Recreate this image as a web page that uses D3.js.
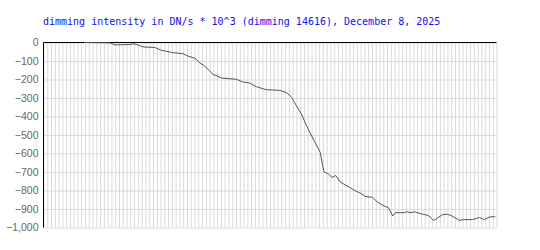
<!DOCTYPE html>
<html lang="en">
<head>
    <meta charset="UTF-8">
    <title>Dimming intensity</title>
    <script src="https://d3js.org/d3.v7.min.js"></script>
    <style>
        body { margin: 0; background: #fff; }
        .grid line { stroke: #d9d9d9; }
        .grid path { display: none; }
        .yaxis text { font-family: "Liberation Sans", Arial, sans-serif; font-size: 10.5px; fill: #666; }
        .yaxis line, .yaxis path { display: none; }
    </style>
</head>
<body>
    <div id="chart"></div>
    <script>

        // minutes since start of the window
        const minutes = [10.8, 17.6, 19, 22.9, 23.8, 24.7, 26.4, 29.5, 31.3, 32.6, 33.9, 37, 38.3, 40.1,
            41.4, 42.7, 44.1, 44.9, 47.2, 49.4, 51.1, 52.9, 54.6, 56.4, 59, 62.6, 64.3, 65.7, 67, 68.3,
            69.6, 70.9, 72.3, 73.3, 74, 74.3, 75.6, 76.4, 77.4, 78.6, 79.8, 81.1, 82.8, 84.2, 85.2, 87.2,
            88.4, 89.9, 91.4, 92.5, 93.2, 95.6, 96.2, 97.4, 98.3, 100, 102, 103.3, 104.1, 105.6, 106.8,
            108, 110.2, 111.1, 113.7, 115.5, 116.8, 118.3, 119.7];

        // dimming intensity (DN/s * 10^3)
        const intensity = [0, -2, -13, -11, -7, -11, -24, -27, -43, -47, -54, -61, -74, -85,
            -110, -127, -156, -172, -192, -196, -199, -214, -219, -239, -255, -259, -270, -295, -342, -386,
            -446, -500, -554, -594, -672, -699, -712, -730, -719, -754, -768, -783, -804, -817, -832, -837,
            -862, -880, -893, -938, -920, -920, -915, -920, -915, -926, -935, -962, -953, -931, -928,
            -935, -962, -958, -957, -946, -957, -942, -942];

        const yTicks = [0, -100, -200, -300, -400, -500, -600, -700, -800, -900, -1000];
        const xMinutes = d3.range(0, 121);
        const title = "dimming intensity in DN/s * 10^3 (dimming 14616), December 8, 2025";

        const width = 540, height = 250;
        const svg = d3.select("#chart").append("svg")
            .attr("width", width)
            .attr("height", height);

        const x = d3.scaleLinear().domain([0, 120]).range([43.5, 496.5]);
        const y = d3.scaleLinear().domain([-1000, 0]).range([227.5, 42.5]);

        // vertical grid, one line per minute
        svg.append("g")
            .attr("class", "grid")
            .attr("transform", "translate(0,227.5)")
            .call(d3.axisBottom(x).tickValues(xMinutes).tickSize(-185).tickFormat(""));

        // horizontal grid
        svg.append("g")
            .attr("class", "grid")
            .attr("transform", "translate(43.5,0)")
            .call(d3.axisLeft(y).tickValues(yTicks).tickSize(-453).tickFormat(""));

        // y labels
        svg.append("g")
            .attr("class", "yaxis")
            .attr("transform", "translate(43.5,0)")
            .call(d3.axisLeft(y).tickValues(yTicks).tickSize(0).tickPadding(5));

        // black axis lines, left and top
        svg.append("line")
            .attr("x1", x(0)).attr("x2", x(0))
            .attr("y1", y(0)).attr("y2", y(-1000))
            .attr("stroke", "#000");
        svg.append("line")
            .attr("x1", x(0)).attr("x2", x(120))
            .attr("y1", y(0)).attr("y2", y(0))
            .attr("stroke", "#000");

        const points = minutes.map((m, i) => [m, intensity[i]]);
        const line = d3.line()
            .x(d => x(d[0]))
            .y(d => y(d[1]));

        svg.append("path")
            .datum(points)
            .attr("d", line)
            .attr("fill", "none")
            .attr("stroke", "#555")
            .attr("stroke-width", 1);

        svg.append("text")
            .attr("x", 43)
            .attr("y", 25)
            .text(title)
            .style("font-family", "'DejaVu Sans Mono', monospace")
            .style("font-size", "10px")
            .attr("fill", "#1010ee");

    </script>
</body>
</html>
